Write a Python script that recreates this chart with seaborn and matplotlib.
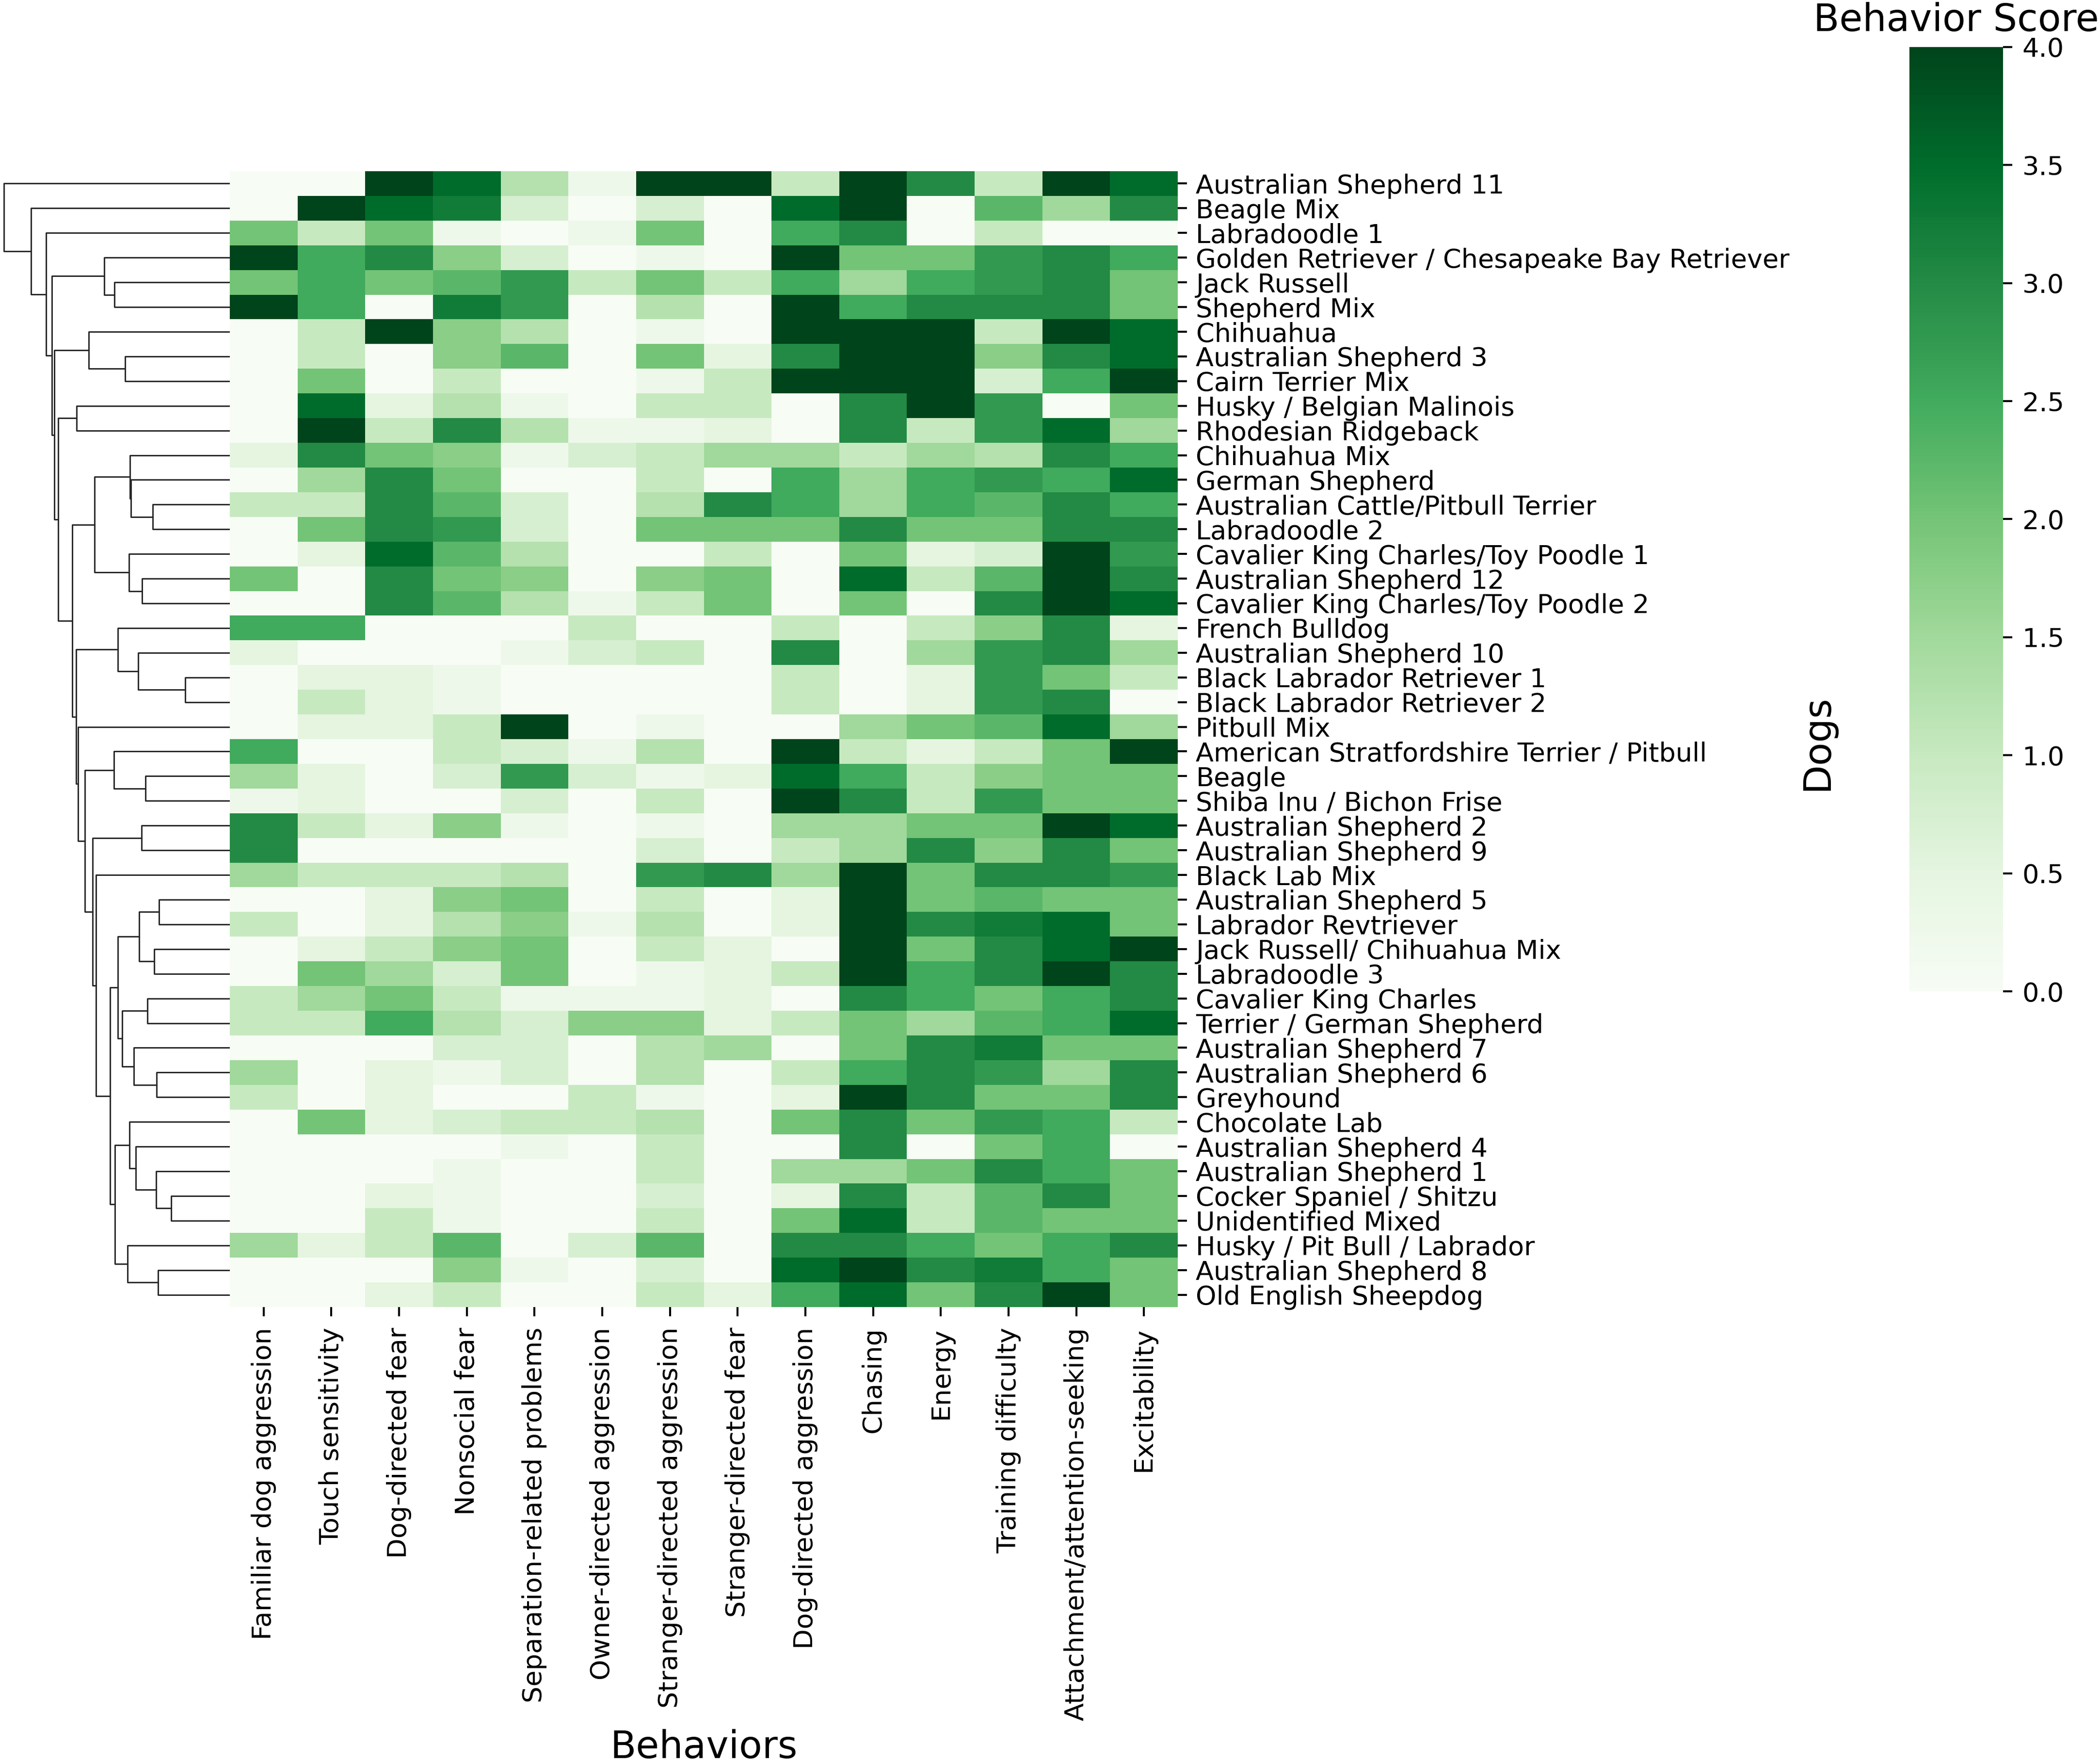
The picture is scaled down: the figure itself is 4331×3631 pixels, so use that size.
import numpy as np
import pandas as pd
import matplotlib
matplotlib.use("Agg")
import matplotlib.pyplot as plt
import seaborn as sns

dogs = [
    "Australian Shepherd 11", "Beagle Mix", "Labradoodle 1",
    "Golden Retriever / Chesapeake Bay Retriever", "Jack Russell", "Shepherd Mix",
    "Chihuahua", "Australian Shepherd 3", "Cairn Terrier Mix",
    "Husky / Belgian Malinois", "Rhodesian Ridgeback", "Chihuahua Mix",
    "German Shepherd", "Australian Cattle/Pitbull Terrier", "Labradoodle 2",
    "Cavalier King Charles/Toy Poodle 1", "Australian Shepherd 12",
    "Cavalier King Charles/Toy Poodle 2", "French Bulldog", "Australian Shepherd 10",
    "Black Labrador Retriever 1", "Black Labrador Retriever 2", "Pitbull Mix",
    "American Stratfordshire Terrier / Pitbull", "Beagle", "Shiba Inu / Bichon Frise",
    "Australian Shepherd 2", "Australian Shepherd 9", "Black Lab Mix",
    "Australian Shepherd 5", "Labrador Revtriever", "Jack Russell/ Chihuahua Mix",
    "Labradoodle 3", "Cavalier King Charles", "Terrier / German Shepherd",
    "Australian Shepherd 7", "Australian Shepherd 6", "Greyhound", "Chocolate Lab",
    "Australian Shepherd 4", "Australian Shepherd 1", "Cocker Spaniel / Shitzu",
    "Unidentified Mixed", "Husky / Pit Bull / Labrador", "Australian Shepherd 8",
    "Old English Sheepdog",
]

behaviors = [
    "Familiar dog aggression", "Touch sensitivity", "Dog-directed fear",
    "Nonsocial fear", "Separation-related problems", "Owner-directed aggression",
    "Stranger-directed aggression", "Stranger-directed fear", "Dog-directed aggression",
    "Chasing", "Energy", "Training difficulty", "Attachment/attention-seeking",
    "Excitability",
]

score_ticks = [0, 0.5, 1, 1.5, 2, 2.5, 3, 3.5, 4]

scores = [
    [0, 0, 4, 3.5, 1.25, .25, 4, 4, 1, 4, 3, 1, 4, 3.5],
    [0, 4, 3.5, 3.25, .75, 0, .75, 0, 3.5, 4, 0, 2.25, 1.5, 3],
    [2, 1, 2, .25, 0, .25, 2, 0, 2.5, 3, 0, 1, 0, 0],
    [4, 2.5, 3, 1.75, .75, 0, .25, 0, 4, 2, 2, 2.75, 3, 2.5],
    [2, 2.5, 2, 2.25, 2.75, 1, 2, 1, 2.5, 1.5, 2.5, 2.75, 3, 2],
    [4, 2.5, 0, 3.25, 2.75, 0, 1.25, 0, 4, 2.5, 3, 3, 3, 2],
    [0, 1, 4, 1.75, 1.25, 0, .25, 0, 4, 4, 4, 1, 4, 3.5],
    [0, 1, 0, 1.75, 2.25, 0, 2, .5, 3, 4, 4, 1.75, 3, 3.5],
    [0, 2, 0, 1, 0, 0, .25, 1, 4, 4, 4, .75, 2.5, 4],
    [0, 3.5, .5, 1.25, .25, 0, 1, 1, 0, 3, 4, 2.75, 0, 2],
    [0, 4, 1, 3, 1.25, .25, .25, .5, 0, 3, 1, 2.75, 3.5, 1.5],
    [.5, 3, 2, 1.75, .25, .75, 1, 1.5, 1.5, 1, 1.5, 1.25, 3, 2.5],
    [0, 1.5, 3, 2, 0, 0, 1, 0, 2.5, 1.5, 2.5, 2.75, 2.5, 3.5],
    [1, 1, 3, 2.25, .75, 0, 1.25, 3, 2.5, 1.5, 2.5, 2.25, 3, 2.5],
    [0, 2, 3, 2.75, .75, 0, 2, 2, 2, 3, 2, 2, 3, 3],
    [0, .5, 3.5, 2.25, 1.25, 0, 0, 1, 0, 2, .5, .75, 4, 2.75],
    [2, 0, 3, 2, 1.75, 0, 1.75, 2, 0, 3.5, 1, 2.25, 4, 3],
    [0, 0, 3, 2.25, 1.25, .25, 1, 2, 0, 2, 0, 3, 4, 3.5],
    [2.5, 2.5, 0, 0, 0, 1, 0, 0, 1, 0, 1, 1.75, 3, .5],
    [.5, 0, 0, 0, .25, .75, 1, 0, 3, 0, 1.5, 2.75, 3, 1.5],
    [0, .5, .5, .25, 0, 0, 0, 0, 1, 0, .5, 2.75, 2, 1],
    [0, 1, .5, .25, 0, 0, 0, 0, 1, 0, .5, 2.75, 3, 0],
    [0, .5, .5, 1, 4, 0, .25, 0, 0, 1.5, 2, 2.25, 3.5, 1.5],
    [2.5, 0, 0, 1, .75, .25, 1.25, 0, 4, 1, .5, 1, 2, 4],
    [1.5, .5, 0, .75, 2.75, .75, .25, .5, 3.5, 2.5, 1, 1.75, 2, 2],
    [.25, .5, 0, 0, .75, 0, 1, 0, 4, 3, 1, 2.75, 2, 2],
    [3, 1, .5, 1.75, .25, 0, .25, 0, 1.5, 1.5, 2, 2, 4, 3.5],
    [3, 0, 0, 0, 0, 0, .75, 0, 1, 1.5, 3, 1.75, 3, 2],
    [1.5, 1, 1, 1, 1.25, 0, 2.75, 3, 1.5, 4, 2, 3, 3, 2.75],
    [0, 0, .5, 1.75, 2, 0, 1, 0, .5, 4, 2, 2.25, 2, 2],
    [1, 0, .5, 1.25, 1.75, .25, 1.25, 0, .5, 4, 3, 3.25, 3.5, 2],
    [0, .5, 1, 1.75, 2, 0, 1, .5, 0, 4, 2, 3, 3.5, 4],
    [0, 2, 1.5, .75, 2, 0, .25, .5, 1, 4, 2.5, 3, 4, 3],
    [1, 1.5, 2, 1, .25, .25, .25, .5, 0, 3, 2.5, 2, 2.5, 3],
    [1, 1, 2.5, 1.25, .75, 1.75, 1.75, .5, 1, 2, 1.5, 2.25, 2.5, 3.5],
    [0, 0, 0, .75, .75, 0, 1.25, 1.5, 0, 2, 3, 3.25, 2, 2],
    [1.5, 0, .5, .25, .75, 0, 1.25, 0, 1, 2.5, 3, 2.75, 1.5, 3],
    [1, 0, .5, 0, 0, 1, .25, 0, .5, 4, 3, 2, 2, 3],
    [0, 2, .5, .75, 1, 1, 1.25, 0, 2, 3, 2, 2.75, 2.5, 1],
    [0, 0, 0, 0, .25, 0, 1, 0, 0, 3, 0, 2, 2.5, 0],
    [0, 0, 0, .25, 0, 0, 1, 0, 1.5, 1.5, 2, 3, 2.5, 2],
    [0, 0, .5, .25, 0, 0, .75, 0, .5, 3, 1, 2.25, 3, 2],
    [0, 0, 1, .25, 0, 0, 1, 0, 2, 3.5, 1, 2.25, 2, 2],
    [1.5, .5, 1, 2.25, 0, .75, 2.25, 0, 3, 3, 2.5, 2, 2.5, 3],
    [0, 0, 0, 1.75, .25, 0, .75, 0, 3.5, 4, 3, 3.25, 2.5, 2],
    [0, 0, .5, 1, 0, 0, 1, .5, 2.5, 3.5, 2, 3, 4, 2],
]

# row dendrogram merges: (distance, upper branch, lower branch), a plain int is a row number
tree_a = (259, 3, (238, 4, 5))
tree_b = (291, 6, (216, 7, 8))
tree_c = (279, (206, 11, (204, 12, (159, 13, 14))), (208, 15, (181, 16, 17)))
tree_d = (231, 18, (189, 19, (92, 20, 21)))
tree_e = (239, 23, (174, 24, 25))
tree_f = (231, (187, (146, 29, 30), (156, 31, 32)), (222, (170, 33, 34), (198, 35, (151, 36, 37))))
tree_g = (237, (207, 38, (194, 39, (152, 40, (121, 41, 42)))), (211, 43, (148, 44, 45)))
tree_h = (276, 28, (247, tree_f, tree_g))
tree_i = (283, (182, 26, 27), tree_h)
tree_j = (299, tree_e, tree_i)
tree_k = (317, tree_d, (313, 22, tree_j))
tree_l = (354, (316, 9, 10), (325, tree_c, tree_k))
row_tree = (466, 0, (410, 1, (379, 2, (367, tree_a, (362, tree_b, tree_l)))))


def draw_branch(ax, node):
    # returns row position and distance of this node
    if not isinstance(node, tuple):
        return node + 0.5, 0
    dist, upper, lower = node
    y1, d1 = draw_branch(ax, upper)
    y2, d2 = draw_branch(ax, lower)
    ax.plot([d1, dist, dist, d2], [y1, y1, y2, y2], color=".15", lw=0.7)
    return (y1 + y2) / 2, dist


W, H = 4331, 3631
df = pd.DataFrame(np.array(scores), index=dogs, columns=behaviors)

fig = plt.figure(figsize=(W / 300, H / 300), dpi=300)
ax_heat = fig.add_axes([474 / W, 1 - 2695 / H, 1955 / W, 2342 / H])
ax_dend = fig.add_axes([0, 1 - 2695 / H, 474 / W, 2342 / H])
ax_cbar = fig.add_axes([3938 / W, 1 - 2044 / H, 193 / W, 1947 / H])

sns.heatmap(df, ax=ax_heat, cbar_ax=ax_cbar, cmap="Greens", vmin=0, vmax=4)

ax_heat.yaxis.tick_right()
ax_heat.set_yticks(np.arange(len(dogs)) + 0.5, dogs, rotation=0, fontsize=13)
ax_heat.set_xticks(np.arange(len(behaviors)) + 0.5, behaviors, rotation=90, fontsize=13)
ax_heat.tick_params(axis="x", length=4.5, width=1, pad=5.5)
ax_heat.tick_params(axis="y", length=4.5, width=1, pad=4.5)
ax_heat.set_xlabel("Behaviors", fontsize=18.7, labelpad=4)
ax_heat.set_ylabel("Dogs", fontsize=18.7)
ax_heat.yaxis.set_label_position("right")
ax_heat.yaxis.set_label_coords(1.655, 0.497)

draw_branch(ax_dend, row_tree)
ax_dend.set_xlim(474, 0)
ax_dend.set_ylim(len(dogs), 0)
ax_dend.axis("off")

ax_cbar.set_yticks(score_ticks, [f"{t:.1f}" for t in score_ticks])
ax_cbar.tick_params(labelsize=13, length=4.5, width=1, pad=5)
ax_cbar.set_title("Behavior Score", fontsize=18.7, pad=8)

fig.savefig("out.png", dpi=300)
